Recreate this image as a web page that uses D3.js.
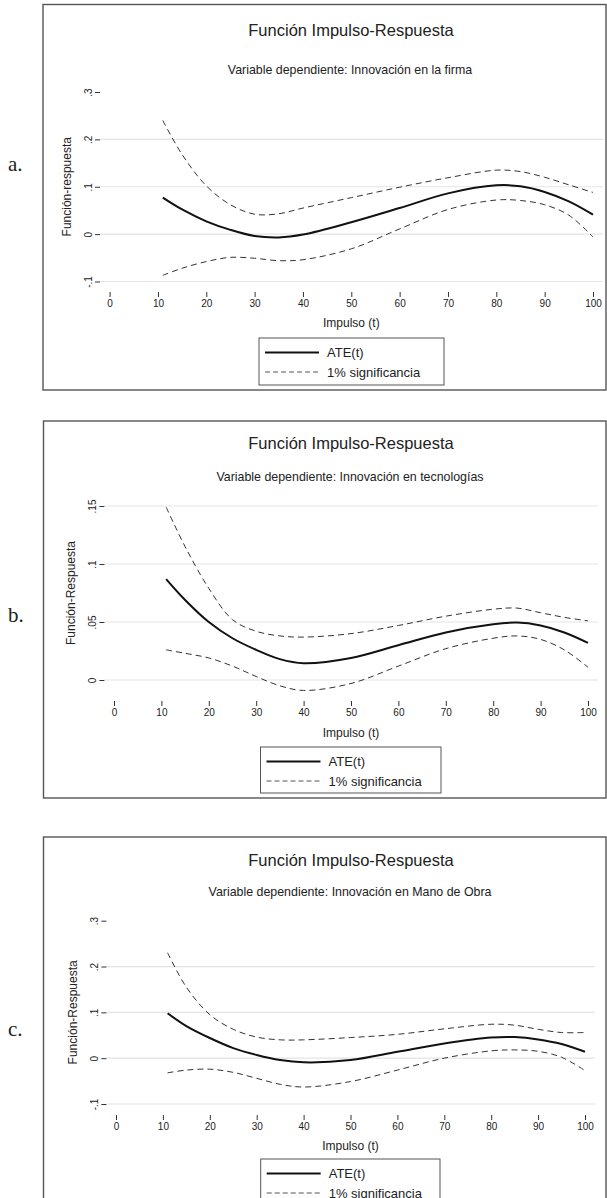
<html>
<head>
    <script src="https://cdnjs.cloudflare.com/ajax/libs/d3/7.8.5/d3.min.js"></script>
    <style>
        body { margin: 0; background: #fff; }
        text { font-family: 'Liberation Sans', Arial, sans-serif; fill: #222; }
    </style>
</head>
<body>
    <script>
        // impulse values (x) shared by every series
        const impulso = [11, 15, 20, 25, 30, 35, 40, 50, 60, 70, 80, 85, 90, 95, 100];
        const xTicks = [0, 10, 20, 30, 40, 50, 60, 70, 80, 90, 100];

        // a. Innovación en la firma
        const ateA   = [0.077, 0.052, 0.027, 0.009, -0.004, -0.007, -0.001, 0.025, 0.055, 0.086, 0.103, 0.101, 0.089, 0.069, 0.041];
        const upperA = [0.240, 0.168, 0.102, 0.062, 0.042, 0.043, 0.055, 0.077, 0.099, 0.119, 0.135, 0.132, 0.120, 0.104, 0.088];
        const lowerA = [-0.087, -0.072, -0.058, -0.049, -0.051, -0.056, -0.054, -0.031, 0.011, 0.052, 0.072, 0.071, 0.062, 0.040, -0.006];
        const yTicksA = [-0.1, 0, 0.1, 0.2, 0.3];
        const yLabelsA = ['-.1', '0', '.1', '.2', '.3'];

        // b. Innovación en tecnologías
        const ateB   = [0.087, 0.069, 0.050, 0.036, 0.026, 0.018, 0.0145, 0.019, 0.030, 0.041, 0.048, 0.0495, 0.047, 0.041, 0.032];
        const upperB = [0.149, 0.115, 0.079, 0.052, 0.042, 0.038, 0.037, 0.040, 0.047, 0.055, 0.061, 0.062, 0.058, 0.054, 0.051];
        const lowerB = [0.026, 0.023, 0.019, 0.012, 0.003, -0.005, -0.009, -0.003, 0.012, 0.027, 0.036, 0.038, 0.035, 0.026, 0.011];
        const yTicksB = [0, 0.05, 0.1, 0.15];
        const yLabelsB = ['0', '.05', '.1', '.15'];

        // c. Innovación en Mano de Obra
        const ateC   = [0.098, 0.070, 0.044, 0.022, 0.007, -0.004, -0.009, -0.004, 0.014, 0.032, 0.045, 0.046, 0.041, 0.031, 0.014];
        const upperC = [0.230, 0.155, 0.095, 0.063, 0.046, 0.040, 0.040, 0.045, 0.052, 0.064, 0.074, 0.072, 0.063, 0.056, 0.056];
        const lowerC = [-0.032, -0.026, -0.024, -0.031, -0.044, -0.057, -0.063, -0.051, -0.026, 0.000, 0.016, 0.018, 0.015, 0.002, -0.027];
        const yTicksC = [-0.1, 0, 0.1, 0.2, 0.3];
        const yLabelsC = ['-.1', '0', '.1', '.2', '.3'];

        const legendLabels = ['ATE(t)', '1% significancia'];

        const panels = [
            {
                letter: 'a.', letterY: 171,
                subtitle: 'Variable dependiente: Innovación en la firma',
                yTitle: 'Función-respuesta',
                ate: ateA, upper: upperA, lower: lowerA,
                yTicks: yTicksA, yLabels: yLabelsA, yDomain: [-0.1, 0.3], noGrid: [0.3],
                frame: [43, 4.5, 606, 390],
                titleY: 35.5, subtitleY: 74,
                xRange: [109.6, 593], yRange: [281.5, 92],
                xAxisY: 292, xTitleY: 327,
                legend: [259, 338, 444, 385]
            },
            {
                letter: 'b.', letterY: 622,
                subtitle: 'Variable dependiente: Innovación en tecnologías',
                yTitle: 'Función-Respuesta',
                ate: ateB, upper: upperB, lower: lowerB,
                yTicks: yTicksB, yLabels: yLabelsB, yDomain: [0, 0.15], noGrid: [],
                frame: [43.5, 421, 606, 798],
                titleY: 449, subtitleY: 481,
                xRange: [114, 588], yRange: [680, 506],
                xAxisY: 701, xTitleY: 737,
                legend: [260.5, 747, 441, 793]
            },
            {
                letter: 'c.', letterY: 1036,
                subtitle: 'Variable dependiente: Innovación en Mano de Obra',
                yTitle: 'Función-Respuesta',
                ate: ateC, upper: upperC, lower: lowerC,
                yTicks: yTicksC, yLabels: yLabelsC, yDomain: [-0.1, 0.3], noGrid: [0.3],
                frame: [43.5, 837, 606, 1214],
                titleY: 865.5, subtitleY: 896,
                xRange: [116, 585], yRange: [1104, 920.7],
                xAxisY: 1115, xTitleY: 1150,
                legend: [260.7, 1159, 440, 1210]
            }
        ];

        const svg = d3.select('body').append('svg')
            .attr('width', 607)
            .attr('height', 1198);

        panels.forEach(drawPanel);

        function drawPanel(p) {
            const [fx0, fy0, fx1, fy1] = p.frame;
            const g = svg.append('g');

            g.append('rect')
                .attr('x', fx0).attr('y', fy0)
                .attr('width', fx1 - fx0).attr('height', fy1 - fy0)
                .attr('fill', '#fff')
                .attr('stroke', '#555')
                .attr('stroke-width', 1.4);

            // panel letter, outside the frame
            svg.append('text')
                .attr('x', 8).attr('y', p.letterY)
                .style('font-family', "'Liberation Serif', 'DejaVu Serif', serif")
                .attr('font-size', 21)
                .text(p.letter);

            const cx = 351;
            g.append('text')
                .attr('x', cx).attr('y', p.titleY)
                .attr('text-anchor', 'middle')
                .attr('font-size', 16.5)
                .text('Función Impulso-Respuesta');
            g.append('text')
                .attr('x', cx - 1).attr('y', p.subtitleY)
                .attr('text-anchor', 'middle')
                .attr('font-size', 12.4)
                .text(p.subtitle);

            const x = d3.scaleLinear().domain([0, 100]).range(p.xRange);
            const y = d3.scaleLinear().domain(p.yDomain).range(p.yRange);

            const tickRight = p.xRange[0] - 9.6;
            const plotRight = p.xRange[1] + 10;

            // gridlines
            g.selectAll('.grid')
                .data(p.yTicks.filter(t => !p.noGrid.includes(t)))
                .enter().append('line')
                .attr('class', 'grid')
                .attr('x1', tickRight).attr('x2', plotRight)
                .attr('y1', d => y(d)).attr('y2', d => y(d))
                .attr('stroke', '#e4e4e4')
                .attr('stroke-width', 1.2);

            // y axis with rotated labels
            const yAxis = d3.axisLeft(y)
                .tickValues(p.yTicks)
                .tickFormat((d, i) => p.yLabels[i])
                .tickSize(5);
            const ya = g.append('g')
                .attr('transform', `translate(${tickRight},0)`)
                .call(yAxis);
            ya.select('.domain').remove();
            ya.selectAll('line').attr('stroke', '#333');
            ya.selectAll('text')
                .attr('transform', 'rotate(-90)')
                .attr('x', 0).attr('y', -8.5).attr('dy', 0)
                .attr('text-anchor', 'middle')
                .attr('font-size', 10)
                .style('font-family', "'Liberation Sans', Arial, sans-serif")
                .style('fill', '#222');

            // y axis title
            const midY = (p.yRange[0] + p.yRange[1]) / 2;
            g.append('text')
                .attr('transform', `translate(${tickRight - 29},${midY}) rotate(-90)`)
                .attr('text-anchor', 'middle')
                .attr('font-size', 12)
                .text(p.yTitle);

            // x axis: tick marks above labels, no domain line
            const xAxis = d3.axisBottom(x)
                .tickValues(xTicks)
                .tickSize(5)
                .tickPadding(3);
            const xa = g.append('g')
                .attr('transform', `translate(0,${p.xAxisY})`)
                .call(xAxis);
            xa.select('.domain').remove();
            xa.selectAll('line').attr('stroke', '#333');
            xa.selectAll('text')
                .attr('font-size', 10)
                .style('font-family', "'Liberation Sans', Arial, sans-serif")
                .style('fill', '#222');

            g.append('text')
                .attr('x', (p.xRange[0] + p.xRange[1]) / 2)
                .attr('y', p.xTitleY)
                .attr('text-anchor', 'middle')
                .attr('font-size', 12)
                .text('Impulso (t)');

            // series
            const line = d3.line()
                .x((d, i) => x(impulso[i]))
                .y(d => y(d))
                .curve(d3.curveCatmullRom);

            [p.upper, p.lower].forEach(s => {
                g.append('path')
                    .attr('d', line(s))
                    .attr('fill', 'none')
                    .attr('stroke', '#333')
                    .attr('stroke-width', 1)
                    .attr('stroke-dasharray', '6,4');
            });
            g.append('path')
                .attr('d', line(p.ate))
                .attr('fill', 'none')
                .attr('stroke', '#111')
                .attr('stroke-width', 2);

            // legend
            const [lx0, ly0, lx1, ly1] = p.legend;
            g.append('rect')
                .attr('x', lx0).attr('y', ly0)
                .attr('width', lx1 - lx0).attr('height', ly1 - ly0)
                .attr('fill', '#fff')
                .attr('stroke', '#555')
                .attr('stroke-width', 1);
            const rows = [
                { label: legendLabels[0], width: 2, dash: null, color: '#111' },
                { label: legendLabels[1], width: 1, dash: '5,3', color: '#555' }
            ];
            rows.forEach((r, i) => {
                const ry = ly0 + 14.5 + i * 19.5;
                g.append('line')
                    .attr('x1', lx0 + 6).attr('x2', lx0 + 60)
                    .attr('y1', ry).attr('y2', ry)
                    .attr('stroke', r.color)
                    .attr('stroke-width', r.width)
                    .attr('stroke-dasharray', r.dash);
                g.append('text')
                    .attr('x', lx0 + 68).attr('y', ry + 4.5)
                    .attr('font-size', 13)
                    .text(r.label);
            });
        }
    </script>
</body>
</html>
